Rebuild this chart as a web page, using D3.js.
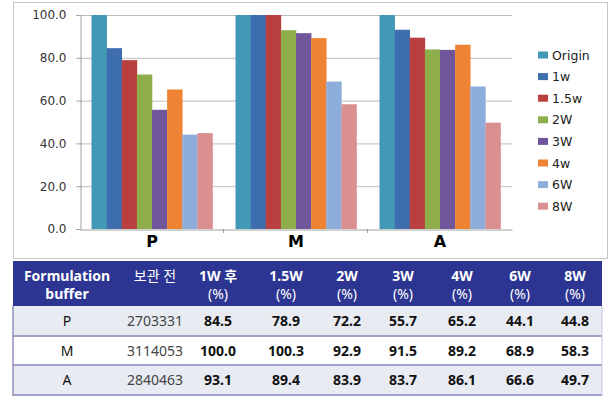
<!DOCTYPE html>
<html>
<head>
<meta charset="utf-8">
<title>Formulation buffer</title>
<style>
  body { margin:0; background:#fff; }
  svg text { font-family: "DejaVu Sans", Verdana, sans-serif; }
  .tbl text { font-family: "Noto Sans", "Noto Sans CJK KR", sans-serif; }
</style>
</head>
<body>
<svg id="chart" width="613" height="408"></svg>
<script src="https://d3js.org/d3.v7.min.js"></script>
<script>
// data
var categories = ["P", "M", "A"];
var series = ["Origin", "1w", "1.5w", "2W", "3W", "4w", "6W", "8W"];
var pValues = [100, 84.5, 78.9, 72.2, 55.7, 65.2, 44.1, 44.8];
var mValues = [100, 100.0, 100.3, 92.9, 91.5, 89.2, 68.9, 58.3];
var aValues = [100, 93.1, 89.4, 83.9, 83.7, 86.1, 66.6, 49.7];
var yTicks = [0, 20, 40, 60, 80, 100];
var beforeStorage = [2703331, 3114053, 2840463];
var headerLine1 = ["Formulation", "보관 전", "1W 후", "1.5W", "2W", "3W", "4W", "6W", "8W"];
var headerLine2 = ["buffer", "", "(%)", "(%)", "(%)", "(%)", "(%)", "(%)", "(%)"];

var colors = ["#4299B6", "#3E6EAE", "#B9403E", "#8DAE4B", "#71559A", "#EE8433", "#8DAEDB", "#DA9090"];
var groups = [pValues, mValues, aValues];

var svg = d3.select("#chart");

// chart frame
svg.append("rect")
    .attr("x", 13.5).attr("y", 2.5)
    .attr("width", 594).attr("height", 256)
    .attr("fill", "#fff").attr("stroke", "#c6c6c6");

var y = d3.scaleLinear().domain([0, 100]).range([229, 15]);
var x0 = d3.scaleBand().domain(categories).range([80, 512]);
var x1 = d3.scaleBand().domain(series).range([0, x0.bandwidth()]).paddingOuter(0.76);

// gridlines
svg.append("g").selectAll("line")
    .data(yTicks.filter(function(d){ return d > 0; }))
    .enter().append("line")
    .attr("x1", 80).attr("x2", 512)
    .attr("y1", function(d){ return y(d) + 0.5; })
    .attr("y2", function(d){ return y(d) + 0.5; })
    .attr("stroke", "#bdbdbd");

// bars
svg.append("g").selectAll("g")
    .data(groups)
    .enter().append("g")
    .attr("transform", function(d, i){ return "translate(" + x0(categories[i]) + ",0)"; })
    .selectAll("rect")
    .data(function(d){ return d; })
    .enter().append("rect")
    .attr("x", function(d, i){ return x1(series[i]); })
    .attr("width", x1.bandwidth() + 0.3)
    .attr("y", function(d){ return y(Math.min(d, 100)); })
    .attr("height", function(d){ return y(0) - y(Math.min(d, 100)); })
    .attr("fill", function(d, i){ return colors[i]; });

// y axis
var yAxis = svg.append("g")
    .attr("transform", "translate(80.5,0)")
    .call(d3.axisLeft(y).tickValues(yTicks).tickSize(4).tickFormat(d3.format(".1f")));
yAxis.select(".domain").attr("stroke", "#a0a0a0");
yAxis.selectAll(".tick line").attr("stroke", "#a0a0a0");
yAxis.selectAll("text").attr("font-size", 12).attr("fill", "#333")
    .attr("font-family", "DejaVu Sans, Verdana, sans-serif").attr("dx", -7);

// x axis
var xAxis = svg.append("g")
    .attr("transform", "translate(0,229.5)")
    .call(d3.axisBottom(x0).tickSize(0).tickPadding(6));
xAxis.select(".domain").attr("stroke", "#a0a0a0");
xAxis.selectAll("text").attr("font-size", 16).attr("font-weight", "bold")
    .attr("fill", "#000").attr("font-family", "Liberation Sans, Arial, sans-serif");
svg.append("g").selectAll("line")
    .data(categories.slice(1))
    .enter().append("line")
    .attr("x1", function(d){ return x0(d) - 0.5; })
    .attr("x2", function(d){ return x0(d) - 0.5; })
    .attr("y1", 229).attr("y2", 233)
    .attr("stroke", "#a0a0a0");

// legend
var legend = svg.append("g").selectAll("g")
    .data(series)
    .enter().append("g")
    .attr("transform", function(d, i){ return "translate(538," + (55 + i * 21.6) + ")"; });
legend.append("rect")
    .attr("y", -3.5).attr("width", 10).attr("height", 7)
    .attr("fill", function(d, i){ return colors[i]; });
legend.append("text")
    .attr("x", 14).attr("dy", "0.36em")
    .attr("font-size", 12.5).attr("fill", "#222")
    .text(function(d){ return d; });

// table
var colX = [67, 155, 218, 286, 347, 403, 462, 520, 575];
var tbl = svg.append("g").attr("class", "tbl");
tbl.append("rect").attr("x", 13).attr("y", 261).attr("width", 589).attr("height", 45).attr("fill", "#2C3591");

var rowY = [306, 336, 365];
tbl.selectAll("rect.row")
    .data(categories)
    .enter().append("rect")
    .attr("class", "row")
    .attr("x", 13).attr("width", 589)
    .attr("y", function(d, i){ return rowY[i]; })
    .attr("height", function(d, i){ return i == 2 ? 30 : rowY[i + 1] - rowY[i]; })
    .attr("fill", function(d, i){ return i == 1 ? "#ffffff" : "#E9EBF3"; });

tbl.selectAll("line.sep")
    .data([336, 365, 395])
    .enter().append("line")
    .attr("x1", 13).attr("x2", 602)
    .attr("y1", function(d){ return d; }).attr("y2", function(d){ return d; })
    .attr("stroke", "#9FA1CB").attr("stroke-width", 2);
tbl.append("line").attr("x1", 13).attr("x2", 13).attr("y1", 306).attr("y2", 396)
    .attr("stroke", "#8E90B8").attr("stroke-width", 1.5);
tbl.append("line").attr("x1", 602).attr("x2", 602).attr("y1", 306).attr("y2", 396)
    .attr("stroke", "#C6C8DF").attr("stroke-width", 1);

headerLine1.forEach(function(t, i){
    tbl.append("text")
        .attr("x", colX[i]).attr("y", 281)
        .attr("text-anchor", "middle")
        .attr("font-size", 14).attr("fill", "#fff")
        .attr("font-weight", i == 1 ? "normal" : "bold")
        .text(t);
    tbl.append("text")
        .attr("x", colX[i]).attr("y", 299)
        .attr("text-anchor", "middle")
        .attr("font-size", 14).attr("fill", "#fff")
        .attr("font-weight", i == 0 ? "bold" : "normal")
        .text(headerLine2[i]);
});

categories.forEach(function(c, r){
    var base = rowY[r] + 20;
    tbl.append("text").attr("x", colX[0]).attr("y", base)
        .attr("text-anchor", "middle").attr("font-size", 14).attr("fill", "#111").text(c);
    tbl.append("text").attr("x", colX[1]).attr("y", base)
        .attr("text-anchor", "middle").attr("font-size", 14).attr("fill", "#444")
        .text(beforeStorage[r]);
    groups[r].slice(1).forEach(function(v, j){
        tbl.append("text").attr("x", colX[j + 2]).attr("y", base)
            .attr("text-anchor", "middle").attr("font-size", 14)
            .attr("font-weight", "bold").attr("fill", "#111")
            .text(v.toFixed(1));
    });
});
</script>
</body>
</html>
